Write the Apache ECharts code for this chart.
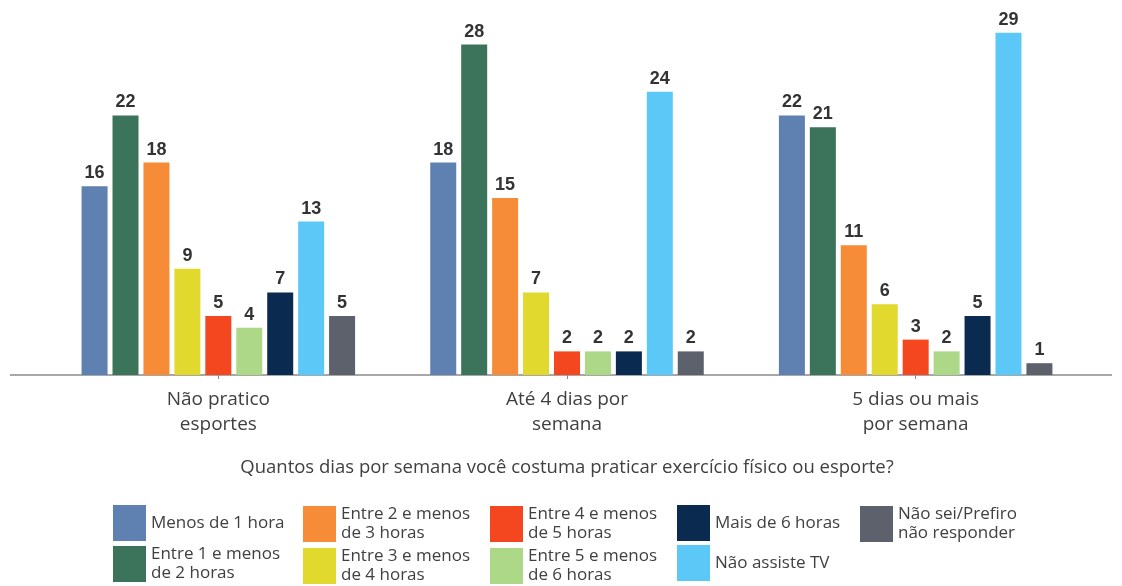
<!DOCTYPE html>
<html>
<head>
<meta charset="utf-8">
<script src="https://cdn.jsdelivr.net/npm/echarts@6/dist/echarts.min.js"></script>
<style>
  html, body { margin: 0; padding: 0; background: #fff; }
  #main { width: 1122px; height: 586px; }
</style>
</head>
<body>
<div id="main"></div>
<script>
var categories = ['Não pratico\nesportes', 'Até 4 dias por\nsemana', '5 dias ou mais\npor semana'];
var seriesNames = [
  'Menos de 1 hora',
  'Entre 1 e menos\nde 2 horas',
  'Entre 2 e menos\nde 3 horas',
  'Entre 3 e menos\nde 4 horas',
  'Entre 4 e menos\nde 5 horas',
  'Entre 5 e menos\nde 6 horas',
  'Mais de 6 horas',
  'Não assiste TV',
  'Não sei/Prefiro\nnão responder'
];
var menos1 = [16, 18, 22];
var entre1e2 = [22, 28, 21];
var entre2e3 = [18, 15, 11];
var entre3e4 = [9, 7, 6];
var entre4e5 = [5, 2, 3];
var entre5e6 = [4, 2, 2];
var mais6 = [7, 2, 5];
var naoAssiste = [13, 24, 29];
var naoSei = [5, 2, 1];
var values = [menos1, entre1e2, entre2e3, entre3e4, entre4e5, entre5e6, mais6, naoAssiste, naoSei];
var colors = ['#5e81b1', '#3b745a', '#f68b38', '#e2d92f', '#f4471f', '#add887', '#0b2a4f', '#5bc8f8', '#5d616b'];
var axisName = 'Quantos dias por semana você costuma praticar exercício físico ou esporte?';

var myChart = echarts.init(document.getElementById('main'));

var series = seriesNames.map(function (name, i) {
  return {
    name: name,
    type: 'bar',
    data: values[i],
    barWidth: 26,
    barGap: '19%',
    itemStyle: { color: colors[i] },
    label: {
      show: true,
      position: 'top',
      distance: 4,
      color: '#333',
      fontWeight: 'bold',
      fontSize: 18,
      fontFamily: 'Liberation Sans'
    }
  };
});

// one legend per column, two items each
var legendLefts = [113, 303, 490, 677, 860];
var legends = legendLefts.map(function (left, c) {
  return {
    orient: 'vertical',
    left: left,
    top: 505,
    height: 80,
    padding: 0,
    itemWidth: 33,
    itemHeight: 36,
    itemGap: 4,
    icon: 'rect',
    selectedMode: false,
    textStyle: { fontSize: 17, lineHeight: 19, color: '#404040', fontFamily: 'Open Sans', padding: [0, 0, 0, 0] },
    data: seriesNames.slice(c * 2, c * 2 + 2)
  };
});

myChart.setOption({
  animation: false,
  legend: legends,
  grid: { left: 44, right: 32, top: 21, bottom: 211 },
  xAxis: {
    type: 'category',
    data: categories,
    axisLine: { show: false },
    axisTick: { show: true, alignWithLabel: true, length: 4, lineStyle: { color: '#888' } },
    axisLabel: { fontSize: 19, lineHeight: 25, color: '#404040', fontFamily: 'Open Sans', margin: 12 },
    name: axisName,
    nameLocation: 'middle',
    nameGap: 83,
    nameTextStyle: { fontSize: 18.5, color: '#404040', fontFamily: 'Open Sans' }
  },
  yAxis: {
    type: 'value',
    min: 0,
    max: 30,
    show: false,
    splitLine: { show: false }
  },
  graphic: [{
    type: 'line',
    shape: { x1: 10, y1: 375, x2: 1112, y2: 375 },
    style: { stroke: '#8a8a8a', lineWidth: 1.5 }
  }],
  series: series
});
</script>
</body>
</html>
